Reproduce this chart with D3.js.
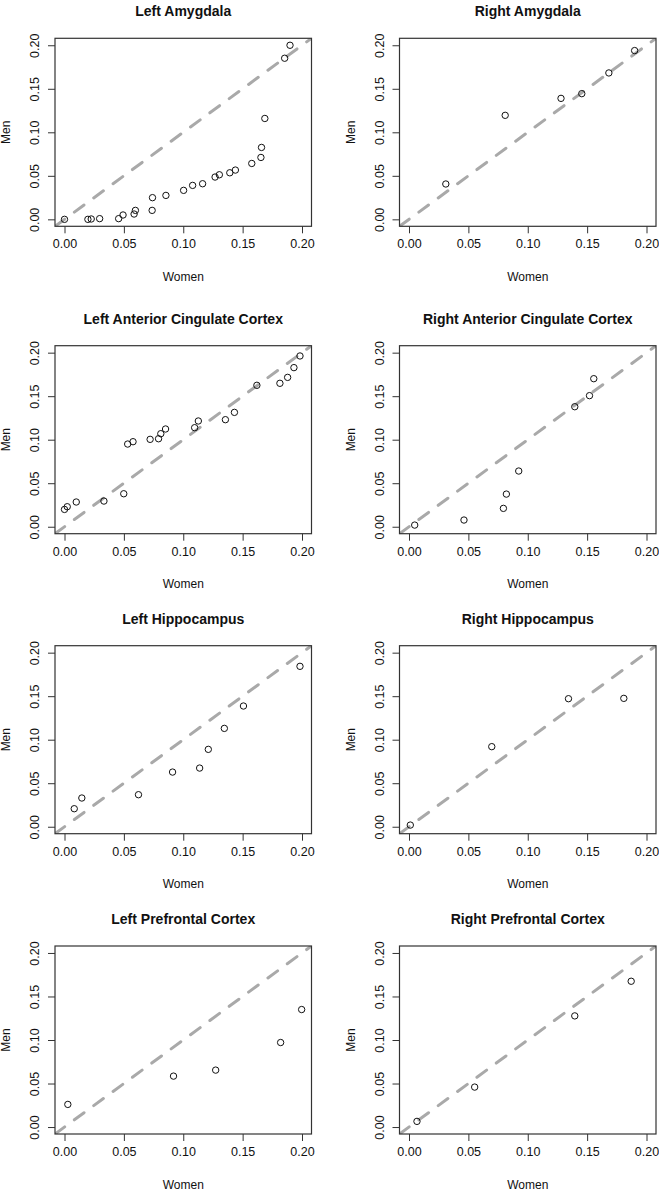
<!DOCTYPE html>
<html>
<head>
<meta charset="utf-8">
<script src="https://cdn.jsdelivr.net/npm/d3@7"></script>
<style>
  body { margin: 0; background: #fff; }
  svg { display: block; font-family: "Liberation Sans", Arial, Helvetica, sans-serif; }
</style>
</head>
<body>
<div id="chart"></div>
<script>
// values (proportion, women vs men)
const panelTitles = [
  "Left Amygdala", "Right Amygdala",
  "Left Anterior Cingulate Cortex", "Right Anterior Cingulate Cortex",
  "Left Hippocampus", "Right Hippocampus",
  "Left Prefrontal Cortex", "Right Prefrontal Cortex"
];

const leftAmygdalaWomen = [0.000, 0.0197, 0.0225, 0.0296, 0.0456, 0.0493, 0.0586, 0.0597, 0.0738, 0.0741, 0.0854, 0.1003, 0.1079, 0.1163, 0.1268, 0.1304, 0.1392, 0.1439, 0.1577, 0.1654, 0.1659, 0.1687, 0.1854, 0.1899];
const leftAmygdalaMen   = [0.000, 0.000, 0.0004, 0.0008, 0.0008, 0.005, 0.0061, 0.0103, 0.0103, 0.0249, 0.0275, 0.0333, 0.039, 0.0409, 0.0486, 0.0512, 0.0535, 0.0566, 0.0642, 0.0711, 0.0826, 0.1159, 0.1851, 0.2000];

const rightAmygdalaWomen = [0.031, 0.081, 0.128, 0.1455, 0.1683, 0.190];
const rightAmygdalaMen   = [0.0406, 0.1195, 0.139, 0.1444, 0.1682, 0.1939];

const leftACCWomen = [0.000, 0.0023, 0.0099, 0.0332, 0.0499, 0.0532, 0.0577, 0.0721, 0.0792, 0.0811, 0.0851, 0.1096, 0.1127, 0.1355, 0.1431, 0.162, 0.1814, 0.1879, 0.1932, 0.1983];
const leftACCMen   = [0.0199, 0.023, 0.0284, 0.0295, 0.0379, 0.095, 0.0977, 0.1004, 0.1011, 0.1069, 0.1123, 0.1138, 0.1215, 0.123, 0.1314, 0.1625, 0.1648, 0.1716, 0.1828, 0.1962];

const rightACCWomen = [0.0048, 0.0463, 0.0795, 0.082, 0.0924, 0.1396, 0.152, 0.1556];
const rightACCMen   = [0.0019, 0.0077, 0.0211, 0.0375, 0.064, 0.1379, 0.1506, 0.1701];

const leftHippoWomen = [0.0082, 0.0146, 0.0623, 0.091, 0.1138, 0.1211, 0.1346, 0.1507, 0.1983];
const leftHippoMen   = [0.0207, 0.033, 0.0368, 0.0628, 0.0674, 0.0889, 0.113, 0.1387, 0.1843];

const rightHippoWomen = [0.0011, 0.0697, 0.1343, 0.1809];
const rightHippoMen   = [0.0019, 0.092, 0.1471, 0.1475];

const leftPFCWomen = [0.0028, 0.0918, 0.1273, 0.182, 0.1997];
const leftPFCMen   = [0.026, 0.0585, 0.0654, 0.0971, 0.135];

const rightPFCWomen = [0.0067, 0.0553, 0.1396, 0.1871];
const rightPFCMen   = [0.0065, 0.0459, 0.1277, 0.1675];

const tickValues = [0, 0.05, 0.10, 0.15, 0.20];
const axisLimits = [0, 0.2];

const panelWomen = [leftAmygdalaWomen, rightAmygdalaWomen, leftACCWomen, rightACCWomen,
                    leftHippoWomen, rightHippoWomen, leftPFCWomen, rightPFCWomen];
const panelMen   = [leftAmygdalaMen, rightAmygdalaMen, leftACCMen, rightACCMen,
                    leftHippoMen, rightHippoMen, leftPFCMen, rightPFCMen];

const W = 659, H = 1190;
const colLeft = [55, 399.5];
const rowTop = [38.3, 345.7, 645.7, 946];
const boxW = 256.5, boxH = 188;

// R-style 4% padding on both ends
const pad = (axisLimits[1] - axisLimits[0]) * 0.04;
const domain = [axisLimits[0] - pad, axisLimits[1] + pad];
const fmt = d3.format(".2f");

const svg = d3.select("#chart").append("svg")
  .attr("width", W)
  .attr("height", H);

panelTitles.forEach((title, i) => {
  const col = i % 2, row = Math.floor(i / 2);
  const g = svg.append("g")
    .attr("transform", `translate(${colLeft[col]},${rowTop[row]})`);

  const x = d3.scaleLinear().domain(domain).range([0, boxW]);
  const y = d3.scaleLinear().domain(domain).range([boxH, 0]);

  const clipId = `clip${i}`;
  g.append("clipPath").attr("id", clipId)
    .append("rect").attr("width", boxW).attr("height", boxH);

  // y = x reference line
  g.append("line")
    .attr("clip-path", `url(#${clipId})`)
    .attr("x1", x(domain[0])).attr("y1", y(domain[0]))
    .attr("x2", x(domain[1])).attr("y2", y(domain[1]))
    .attr("stroke", "#a9a9a9")
    .attr("stroke-width", 3)
    .attr("stroke-dasharray", "12,12")
    .attr("stroke-linecap", "round");

  const pts = panelWomen[i].map((w, k) => ({ w, m: panelMen[i][k] }));
  g.selectAll("circle.pt")
    .data(pts)
    .enter().append("circle")
    .attr("class", "pt")
    .attr("cx", d => x(d.w))
    .attr("cy", d => y(d.m))
    .attr("r", 3.2)
    .attr("fill", "none")
    .attr("stroke", "#111")
    .attr("stroke-width", 1);

  g.append("rect")
    .attr("width", boxW).attr("height", boxH)
    .attr("fill", "none")
    .attr("stroke", "#333")
    .attr("stroke-width", 1.2);

  const xAxis = g.append("g")
    .attr("transform", `translate(0,${boxH})`)
    .call(d3.axisBottom(x).tickValues(tickValues).tickFormat(fmt).tickSize(7).tickPadding(6));
  xAxis.select(".domain").remove();
  xAxis.selectAll("line").attr("stroke", "#333");
  xAxis.selectAll("text")
    .attr("fill", "#111")
    .style("font-size", "12.5px")
    .style("font-family", "Liberation Sans, Arial, sans-serif");

  const yAxis = g.append("g")
    .call(d3.axisLeft(y).tickValues(tickValues).tickFormat(fmt).tickSize(7));
  yAxis.select(".domain").remove();
  yAxis.selectAll("line").attr("stroke", "#333");
  yAxis.selectAll("text")
    .attr("x", null).attr("dy", null)
    .attr("transform", "translate(-16,0) rotate(-90)")
    .attr("text-anchor", "middle")
    .attr("fill", "#111")
    .style("font-size", "12.5px")
    .style("font-family", "Liberation Sans, Arial, sans-serif");

  g.append("text")
    .attr("x", boxW / 2).attr("y", -22)
    .attr("text-anchor", "middle")
    .style("font-size", "14px")
    .style("font-weight", "bold")
    .attr("fill", "#111")
    .text(title);

  g.append("text")
    .attr("x", boxW / 2).attr("y", boxH + 54.5)
    .attr("text-anchor", "middle")
    .style("font-size", "12px")
    .attr("fill", "#111")
    .text("Women");

  g.append("text")
    .attr("transform", `translate(-45,${boxH / 2}) rotate(-90)`)
    .attr("text-anchor", "middle")
    .style("font-size", "12px")
    .attr("fill", "#111")
    .text("Men");
});
</script>
</body>
</html>
